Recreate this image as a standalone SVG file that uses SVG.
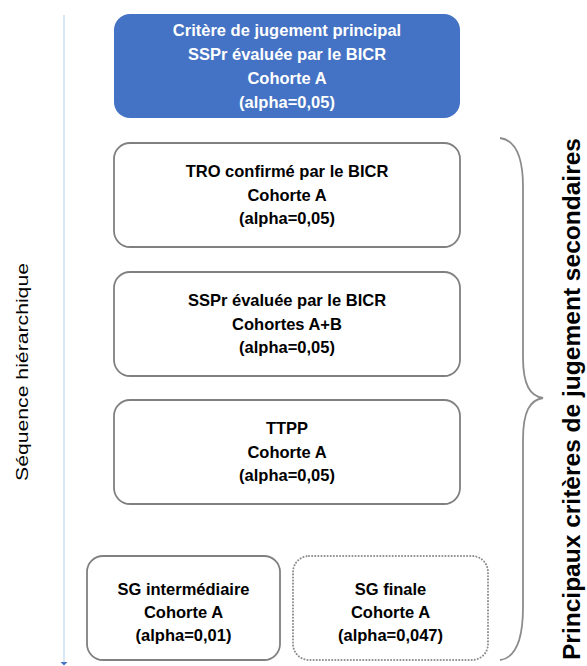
<svg xmlns="http://www.w3.org/2000/svg" width="587" height="666" viewBox="0 0 587 666">
<style>
.box{fill:#ffffff;stroke:#808080;stroke-width:1.8}
.dot{fill:#ffffff;stroke:#8c8c8c;stroke-width:2;stroke-dasharray:0.1 3;stroke-linecap:round}
.main{fill:#4472C4;stroke:none}
.t{font-family:"Liberation Sans",Arial,sans-serif;font-weight:bold;font-size:16.5px;text-anchor:middle;fill:#000}
.w{fill:#ffffff}
</style>
<rect width="587" height="666" fill="#ffffff"/>
<g id="connectors">
<line x1="64" y1="15" x2="64" y2="662" stroke="#BDD7EE" stroke-width="1.2"/>
<polygon points="60.5,662 67.5,662 64,665.5" fill="#4472C4"/>
<path d="M500,138 C515,140 523,155 523,187 L523,357 C523,385 530,396 543,398 C530,400 523,411 523,440 L523,607 C523,640 515,658 500,660" fill="none" stroke="#8c8c8c" stroke-width="1.8"/>
</g>
<g id="label-left">
<text x="28" y="372" transform="rotate(-90 28 372)" font-family="Liberation Sans, Arial, sans-serif" font-size="17" text-anchor="middle" fill="#000" textLength="218" lengthAdjust="spacingAndGlyphs">Séquence hiérarchique</text>
</g>
<g id="label-right">
<text x="580" y="399" transform="rotate(-90 580 399)" font-family="Liberation Sans, Arial, sans-serif" font-size="24" font-weight="bold" text-anchor="middle" fill="#000" textLength="522" lengthAdjust="spacingAndGlyphs">Principaux critères de jugement secondaires</text>
</g>
<g id="node-primary">
<rect class="main" x="114" y="14" width="346" height="104" rx="16"/>
<text class="t w" x="287" y="36">Critère de jugement principal</text>
<text class="t w" x="287" y="60">SSPr évaluée par le BICR</text>
<text class="t w" x="287" y="84">Cohorte A</text>
<text class="t w" x="287" y="108">(alpha=0,05)</text>
</g>
<g id="node-tro">
<rect class="box" x="114" y="143" width="346" height="104" rx="16"/>
<text class="t" x="287" y="177">TRO confirmé par le BICR</text>
<text class="t" x="287" y="200.5">Cohorte A</text>
<text class="t" x="287" y="224">(alpha=0,05)</text>
</g>
<g id="node-sspr-ab">
<rect class="box" x="114" y="272" width="346" height="104" rx="16"/>
<text class="t" x="287" y="306">SSPr évaluée par le BICR</text>
<text class="t" x="287" y="329.5">Cohortes A+B</text>
<text class="t" x="287" y="353">(alpha=0,05)</text>
</g>
<g id="node-ttpp">
<rect class="box" x="114" y="400" width="346" height="104" rx="16"/>
<text class="t" x="287" y="434">TTPP</text>
<text class="t" x="287" y="457.5">Cohorte A</text>
<text class="t" x="287" y="481">(alpha=0,05)</text>
</g>
<g id="node-sg-inter">
<rect class="box" x="87" y="556" width="193" height="104" rx="16"/>
<text class="t" x="183.5" y="595">SG intermédiaire</text>
<text class="t" x="183.5" y="618">Cohorte A</text>
<text class="t" x="183.5" y="641">(alpha=0,01)</text>
</g>
<g id="node-sg-final">
<rect class="dot" x="293" y="556" width="195" height="104" rx="16"/>
<text class="t" x="390.5" y="595">SG finale</text>
<text class="t" x="390.5" y="618">Cohorte A</text>
<text class="t" x="390.5" y="641">(alpha=0,047)</text>
</g>
</svg>
